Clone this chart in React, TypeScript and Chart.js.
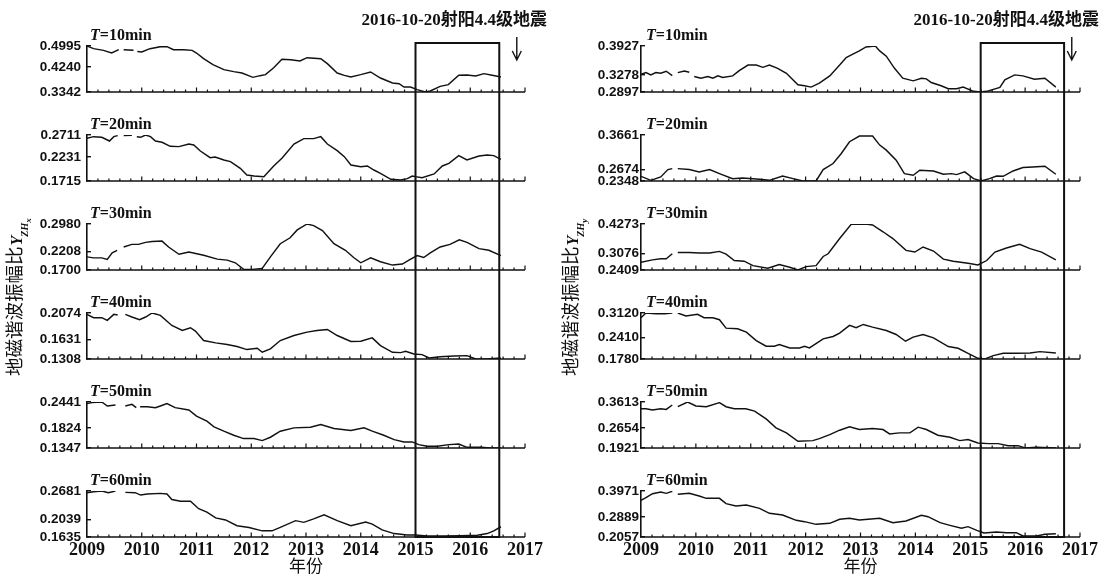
import React, { useEffect, useRef } from "react";
import { Chart, registerables } from "chart.js";

Chart.register(...registerables);

type Pt = [number, number | null];

const INK = "#111111";
const YEARS = [2009, 2010, 2011, 2012, 2013, 2014, 2015, 2016, 2017];
const MINOR_STEP = 0.2;
const PERIODS = [10, 20, 30, 40, 50, 60];
const EVENT_YEAR = 2016.85;
const EVENT_LABEL = "2016-10-20射阳4.4级地震";
const Y_TITLE = "地磁谐波振幅比";
const X_TITLE = "年份";

const LEFT_TICKS = [
  [0.3342, 0.424, 0.4995],
  [0.1715, 0.2231, 0.2711],
  [0.17, 0.2208, 0.298],
  [0.1308, 0.1631, 0.2074],
  [0.1347, 0.1824, 0.2441],
  [0.1635, 0.2039, 0.2681],
];
const RIGHT_TICKS = [
  [0.2897, 0.3278, 0.3927],
  [0.2348, 0.2674, 0.3661],
  [0.2409, 0.3076, 0.4273],
  [0.178, 0.241, 0.312],
  [0.1921, 0.2654, 0.3613],
  [0.2057, 0.2889, 0.3971],
];
const LEFT_BOX = [2015.0, 2016.53];
const RIGHT_BOX = [2015.19, 2016.71];

const L10: Pt[] = [[2009.0,0.4995],[2009.12,0.4899],[2009.3,0.4839],[2009.45,0.4743],[2009.58,0.4863],[2009.61,null],[2009.67,0.4863],[2009.85,0.4839],[2009.88,null],[2009.92,0.48],[2010.0,0.4779],[2010.15,0.4899],[2010.34,0.4971],[2010.46,0.4971],[2010.58,0.4863],[2010.77,0.4863],[2010.92,0.4839],[2011.0,0.4743],[2011.13,0.454],[2011.3,0.4324],[2011.5,0.4145],[2011.68,0.4073],[2011.83,0.4025],[2012.03,0.3869],[2012.16,0.3929],[2012.26,0.3965],[2012.41,0.4216],[2012.56,0.4516],[2012.72,0.4504],[2012.89,0.4456],[2013.02,0.4576],[2013.27,0.454],[2013.39,0.436],[2013.57,0.4025],[2013.7,0.3941],[2013.82,0.3881],[2014.0,0.3965],[2014.18,0.4061],[2014.36,0.3845],[2014.58,0.3665],[2014.7,0.3641],[2014.79,0.3522],[2014.91,0.3522],[2015.03,0.3426],[2015.18,0.3342],[2015.27,0.3378],[2015.45,0.3546],[2015.6,0.3606],[2015.79,0.3941],[2015.94,0.3953],[2016.1,0.3917],[2016.25,0.4001],[2016.4,0.3941],[2016.56,0.3881]];
const L20: Pt[] = [[2009.0,0.2639],[2009.12,0.2675],[2009.27,0.2661],[2009.41,0.2581],[2009.49,0.2675],[2009.56,0.2697],[2009.6,null],[2009.67,0.2697],[2009.82,0.2704],[2009.86,null],[2009.91,0.2675],[2009.98,0.2661],[2010.07,0.2711],[2010.16,0.2675],[2010.25,0.2581],[2010.37,0.2553],[2010.52,0.2466],[2010.68,0.2459],[2010.86,0.2516],[2010.95,0.2495],[2011.07,0.2365],[2011.25,0.222],[2011.34,0.2235],[2011.5,0.217],[2011.62,0.2134],[2011.8,0.1989],[2011.92,0.1845],[2012.05,0.1823],[2012.23,0.1809],[2012.41,0.204],[2012.56,0.2206],[2012.78,0.2516],[2012.96,0.2632],[2013.14,0.2632],[2013.27,0.2675],[2013.39,0.2516],[2013.57,0.2372],[2013.7,0.2242],[2013.82,0.2062],[2014.0,0.2025],[2014.12,0.204],[2014.24,0.1953],[2014.36,0.1881],[2014.55,0.1751],[2014.73,0.1737],[2014.85,0.1766],[2014.94,0.1823],[2015.0,0.1809],[2015.12,0.1787],[2015.34,0.1867],[2015.49,0.204],[2015.61,0.2098],[2015.79,0.2264],[2015.94,0.217],[2016.16,0.2256],[2016.31,0.2278],[2016.43,0.2264],[2016.56,0.2184]];
const L30: Pt[] = [[2009.0,0.2066],[2009.12,0.2038],[2009.27,0.2038],[2009.37,0.1992],[2009.46,0.2175],[2009.55,0.2248],[2009.58,null],[2009.67,0.234],[2009.82,0.2413],[2009.94,0.2413],[2010.07,0.2468],[2010.19,0.2495],[2010.37,0.2504],[2010.49,0.234],[2010.68,0.2139],[2010.86,0.2203],[2011.13,0.2111],[2011.38,0.2002],[2011.56,0.1974],[2011.71,0.1901],[2011.86,0.1718],[2012.02,0.1718],[2012.2,0.1746],[2012.35,0.2066],[2012.53,0.2431],[2012.71,0.2596],[2012.84,0.2815],[2013.02,0.298],[2013.14,0.2934],[2013.3,0.2797],[2013.51,0.2431],[2013.72,0.2248],[2013.87,0.2047],[2014.0,0.1901],[2014.18,0.2038],[2014.36,0.1929],[2014.58,0.1837],[2014.76,0.1865],[2014.88,0.1974],[2015.03,0.2102],[2015.15,0.2047],[2015.27,0.2175],[2015.45,0.234],[2015.63,0.2413],[2015.8,0.2541],[2015.94,0.2468],[2016.16,0.2294],[2016.34,0.2248],[2016.56,0.2102]];
const L40: Pt[] = [[2009.0,0.2051],[2009.12,0.1996],[2009.27,0.1996],[2009.37,0.1951],[2009.49,0.2051],[2009.56,0.204],[2009.6,null],[2009.7,0.2051],[2009.82,0.2007],[2009.96,0.1962],[2010.07,0.2007],[2010.19,0.2074],[2010.34,0.2035],[2010.55,0.1867],[2010.74,0.1783],[2010.89,0.1828],[2010.98,0.1772],[2011.13,0.1615],[2011.35,0.1576],[2011.56,0.1548],[2011.74,0.1515],[2011.92,0.1465],[2012.11,0.1487],[2012.2,0.142],[2012.35,0.1476],[2012.53,0.1615],[2012.78,0.1699],[2013.02,0.1755],[2013.2,0.1783],[2013.39,0.18],[2013.57,0.1699],[2013.82,0.1599],[2014.0,0.1604],[2014.21,0.166],[2014.36,0.1532],[2014.58,0.142],[2014.73,0.1414],[2014.82,0.1437],[2014.97,0.1392],[2015.12,0.1381],[2015.25,0.1325],[2015.45,0.1347],[2015.7,0.1358],[2015.94,0.1364],[2016.1,0.1308],[2016.31,0.1308],[2016.56,0.1325]];
const L50: Pt[] = [[2009.0,0.2402],[2009.09,0.2426],[2009.27,0.2441],[2009.37,0.2346],[2009.52,0.237],[2009.56,null],[2009.7,0.2346],[2009.82,0.2386],[2009.9,0.2306],[2009.93,null],[2009.97,0.233],[2010.1,0.233],[2010.25,0.2306],[2010.34,0.2346],[2010.46,0.2402],[2010.61,0.2306],[2010.86,0.225],[2011.0,0.2106],[2011.19,0.1986],[2011.32,0.185],[2011.5,0.1747],[2011.68,0.1651],[2011.86,0.1571],[2012.05,0.1571],[2012.2,0.1523],[2012.35,0.1603],[2012.53,0.1747],[2012.78,0.1826],[2013.08,0.1842],[2013.27,0.1906],[2013.51,0.181],[2013.82,0.1762],[2014.06,0.1826],[2014.21,0.1747],[2014.42,0.1651],[2014.61,0.1547],[2014.79,0.1491],[2014.94,0.1491],[2015.06,0.1427],[2015.21,0.1387],[2015.4,0.1387],[2015.61,0.1427],[2015.79,0.1443],[2015.94,0.1363],[2016.19,0.1363],[2016.37,0.1347],[2016.56,0.1347]];
const L60: Pt[] = [[2009.0,0.2643],[2009.12,0.2666],[2009.27,0.2681],[2009.39,0.2643],[2009.52,0.2681],[2009.56,null],[2009.7,0.265],[2009.88,0.2643],[2009.98,0.2588],[2010.1,0.2612],[2010.34,0.2627],[2010.46,0.2612],[2010.55,0.2488],[2010.71,0.2449],[2010.89,0.2449],[2011.04,0.2278],[2011.19,0.2201],[2011.35,0.2069],[2011.53,0.2023],[2011.74,0.1891],[2011.96,0.1852],[2012.2,0.1775],[2012.38,0.1775],[2012.53,0.1852],[2012.81,0.2007],[2012.96,0.1968],[2013.14,0.2046],[2013.33,0.2139],[2013.57,0.2007],[2013.82,0.1891],[2014.09,0.1976],[2014.21,0.1929],[2014.39,0.1798],[2014.61,0.1713],[2014.85,0.1682],[2015.0,0.1682],[2015.21,0.1658],[2015.52,0.1658],[2015.82,0.1666],[2016.13,0.1674],[2016.31,0.1713],[2016.43,0.1775],[2016.56,0.1868]];

const R10: Pt[] = [[2009.0,0.3294],[2009.09,0.3331],[2009.18,0.328],[2009.27,0.3331],[2009.36,0.3317],[2009.46,0.3361],[2009.57,0.3265],[2009.6,null],[2009.67,0.3331],[2009.79,0.3368],[2009.88,0.3339],[2009.91,null],[2009.97,0.3243],[2010.09,0.3206],[2010.22,0.3243],[2010.31,0.3206],[2010.4,0.3258],[2010.49,0.3221],[2010.67,0.3258],[2010.79,0.3375],[2010.95,0.35],[2011.1,0.35],[2011.22,0.3449],[2011.34,0.35],[2011.49,0.3427],[2011.65,0.3317],[2011.86,0.3059],[2011.98,0.3037],[2012.1,0.3007],[2012.25,0.3096],[2012.44,0.3258],[2012.62,0.35],[2012.74,0.367],[2012.86,0.3743],[2012.98,0.3817],[2013.1,0.3905],[2013.27,0.3927],[2013.35,0.3817],[2013.47,0.3699],[2013.62,0.3427],[2013.77,0.3206],[2013.96,0.3147],[2014.11,0.3206],[2014.2,0.3191],[2014.29,0.311],[2014.47,0.3037],[2014.6,0.2971],[2014.75,0.2971],[2014.87,0.3007],[2015.06,0.2912],[2015.18,0.2897],[2015.3,0.2912],[2015.54,0.3],[2015.63,0.3169],[2015.81,0.328],[2015.96,0.3258],[2016.17,0.3184],[2016.36,0.3206],[2016.56,0.3007]];
const R20: Pt[] = [[2009.0,0.2482],[2009.18,0.2367],[2009.36,0.2463],[2009.49,0.2674],[2009.57,0.2702],[2009.6,null],[2009.67,0.2702],[2009.88,0.2674],[2010.06,0.2607],[2010.25,0.2674],[2010.43,0.2559],[2010.67,0.2415],[2010.85,0.2434],[2011.16,0.2396],[2011.34,0.2367],[2011.58,0.2492],[2011.77,0.2415],[2011.95,0.2348],[2012.19,0.2348],[2012.32,0.2674],[2012.5,0.2846],[2012.65,0.3134],[2012.8,0.3469],[2012.98,0.3632],[2013.22,0.3632],[2013.35,0.3373],[2013.47,0.3229],[2013.65,0.2942],[2013.8,0.2559],[2013.96,0.2511],[2014.08,0.2655],[2014.33,0.2635],[2014.51,0.254],[2014.66,0.2559],[2014.75,0.253],[2014.9,0.2607],[2015.06,0.2415],[2015.2,0.2348],[2015.35,0.2415],[2015.48,0.2492],[2015.6,0.2482],[2015.78,0.2635],[2015.96,0.2731],[2016.14,0.275],[2016.36,0.277],[2016.56,0.254]];
const R30: Pt[] = [[2009.0,0.2724],[2009.21,0.282],[2009.36,0.2861],[2009.46,0.2861],[2009.57,0.3067],[2009.6,null],[2009.67,0.3122],[2009.88,0.3122],[2010.06,0.3095],[2010.25,0.3095],[2010.43,0.3163],[2010.55,0.3049],[2010.7,0.2793],[2010.88,0.2765],[2011.04,0.2587],[2011.31,0.2478],[2011.52,0.2628],[2011.71,0.2519],[2011.86,0.2409],[2012.01,0.2546],[2012.19,0.2587],[2012.32,0.2957],[2012.41,0.3067],[2012.62,0.3684],[2012.83,0.426],[2013.1,0.4273],[2013.22,0.4232],[2013.41,0.3958],[2013.59,0.3684],[2013.83,0.3204],[2013.99,0.3136],[2014.14,0.3341],[2014.33,0.3177],[2014.51,0.2848],[2014.69,0.2765],[2014.96,0.2683],[2015.14,0.2615],[2015.3,0.2793],[2015.45,0.3136],[2015.66,0.33],[2015.9,0.3451],[2016.09,0.3273],[2016.3,0.3136],[2016.56,0.282]];
const R40: Pt[] = [[2009.0,0.2983],[2009.09,0.312],[2009.27,0.31],[2009.43,0.31],[2009.57,0.312],[2009.6,null],[2009.67,0.312],[2009.82,0.3032],[2010.03,0.3081],[2010.15,0.2983],[2010.31,0.2983],[2010.43,0.2924],[2010.55,0.268],[2010.76,0.266],[2010.92,0.2562],[2011.1,0.2318],[2011.28,0.2152],[2011.43,0.2152],[2011.52,0.2201],[2011.71,0.2103],[2011.89,0.2103],[2011.98,0.2152],[2012.07,0.2103],[2012.32,0.2367],[2012.5,0.2435],[2012.62,0.2533],[2012.8,0.2758],[2012.92,0.269],[2013.05,0.2787],[2013.22,0.2709],[2013.47,0.2611],[2013.65,0.2494],[2013.82,0.2298],[2013.96,0.2416],[2014.14,0.2494],[2014.33,0.2396],[2014.6,0.2142],[2014.78,0.2093],[2014.96,0.1946],[2015.14,0.18],[2015.27,0.178],[2015.42,0.1878],[2015.6,0.1946],[2015.84,0.1946],[2016.09,0.1956],[2016.27,0.1995],[2016.56,0.1956]];
const R50: Pt[] = [[2009.0,0.3366],[2009.09,0.3366],[2009.21,0.3317],[2009.36,0.3366],[2009.46,0.3341],[2009.57,0.3502],[2009.6,null],[2009.67,0.344],[2009.85,0.3613],[2010.0,0.3465],[2010.19,0.344],[2010.43,0.3588],[2010.55,0.344],[2010.7,0.3366],[2010.91,0.3366],[2011.07,0.328],[2011.28,0.299],[2011.46,0.2662],[2011.65,0.2477],[2011.86,0.2168],[2012.13,0.2193],[2012.25,0.2267],[2012.44,0.2415],[2012.62,0.2576],[2012.8,0.2699],[2012.98,0.26],[2013.22,0.2637],[2013.41,0.26],[2013.53,0.244],[2013.71,0.2477],[2013.9,0.2477],[2014.05,0.2687],[2014.2,0.26],[2014.41,0.239],[2014.63,0.2316],[2014.81,0.2193],[2014.96,0.223],[2015.14,0.2106],[2015.33,0.2082],[2015.51,0.2082],[2015.69,0.2007],[2015.87,0.2007],[2016.0,0.1921],[2016.21,0.1946],[2016.56,0.1921]];
const R60: Pt[] = [[2009.0,0.3583],[2009.09,0.3694],[2009.21,0.386],[2009.36,0.393],[2009.46,0.3874],[2009.57,0.3957],[2009.6,null],[2009.67,0.3832],[2009.88,0.3874],[2010.06,0.3763],[2010.19,0.3666],[2010.43,0.3666],[2010.55,0.3444],[2010.73,0.3347],[2010.92,0.3389],[2011.16,0.325],[2011.34,0.3042],[2011.58,0.2972],[2011.83,0.2751],[2011.98,0.2695],[2012.19,0.2584],[2012.44,0.2626],[2012.62,0.2792],[2012.8,0.2834],[2012.98,0.2764],[2013.35,0.2834],[2013.59,0.2653],[2013.83,0.2723],[2014.11,0.2959],[2014.23,0.2903],[2014.45,0.2653],[2014.63,0.2542],[2014.84,0.2418],[2014.96,0.2487],[2015.12,0.2334],[2015.25,0.2223],[2015.48,0.2265],[2015.66,0.2237],[2015.84,0.2237],[2015.96,0.2099],[2016.21,0.2099],[2016.36,0.2168],[2016.56,0.2196]];

const SUB_H = 46;
const GAP_H = 43;
const CANVAS_H = 576;

interface PanelSpec {
  series: Pt[][];
  ticks: number[][];
  box: number[];
  sub: string;
  axisWidth: number;
  padRight: number;
  tickPad: number;
  labelDx: number;
  titleCx: number;
  width: number;
}

function decorPlugin(spec: PanelSpec) {
  return {
    id: "panelDecor",
    afterDraw(chart: any) {
      const ctx: CanvasRenderingContext2D = chart.ctx;
      const xs = chart.scales.x;
      const xL = xs.getPixelForValue(YEARS[0]);
      const xR = xs.getPixelForValue(YEARS[YEARS.length - 1]);
      ctx.save();
      ctx.strokeStyle = INK;
      ctx.fillStyle = INK;
      const nMinor = Math.round((YEARS[YEARS.length - 1] - YEARS[0]) / MINOR_STEP);
      for (let i = 0; i < 6; i++) {
        const ys = chart.scales["y" + i];
        const yb = ys.getPixelForValue(spec.ticks[i][0]);
        ctx.lineWidth = 1.6;
        ctx.beginPath();
        ctx.moveTo(xL - 0.75, yb);
        ctx.lineTo(xR, yb);
        ctx.stroke();
        ctx.lineWidth = 1.2;
        ctx.beginPath();
        for (let k = 1; k <= nMinor; k++) {
          const px = xs.getPixelForValue(YEARS[0] + k * MINOR_STEP);
          const len = k % 5 === 0 ? 4.5 : 2.5;
          ctx.moveTo(px, yb);
          ctx.lineTo(px, yb - len);
        }
        ctx.stroke();
        const lx = chart.chartArea.left + spec.labelDx;
        const ly = ys.top - 6;
        ctx.textAlign = "left";
        ctx.textBaseline = "alphabetic";
        ctx.font = 'italic bold 16px "Liberation Serif", serif';
        ctx.fillText("T", lx, ly);
        const tw = ctx.measureText("T").width;
        ctx.font = 'bold 16px "Liberation Serif", serif';
        ctx.fillText("=" + PERIODS[i] + "min", lx + tw, ly);
      }
      const top = chart.scales.y0.top - 3;
      const bottom = chart.scales.y5.getPixelForValue(spec.ticks[5][0]);
      const bx0 = xs.getPixelForValue(spec.box[0]);
      const bx1 = xs.getPixelForValue(spec.box[1]);
      ctx.lineWidth = 2;
      ctx.strokeRect(bx0, top, bx1 - bx0, bottom - top);
      ctx.font = 'bold 17px "Liberation Serif", "Noto Sans CJK SC", serif';
      ctx.textAlign = "right";
      ctx.textBaseline = "alphabetic";
      ctx.fillText(EVENT_LABEL, spec.width - 4, 25);
      const ax = xs.getPixelForValue(EVENT_YEAR);
      ctx.lineWidth = 1.4;
      ctx.beginPath();
      ctx.moveTo(ax, 37);
      ctx.lineTo(ax, 60);
      ctx.moveTo(ax - 4.5, 51);
      ctx.lineTo(ax, 60);
      ctx.lineTo(ax + 4.5, 51);
      ctx.stroke();
      ctx.translate(spec.titleCx + 7, 376);
      ctx.rotate(-Math.PI / 2);
      ctx.textAlign = "left";
      ctx.textBaseline = "alphabetic";
      ctx.font = '18.5px "Noto Sans CJK SC", sans-serif';
      ctx.fillText(Y_TITLE, 0, 0);
      let w = ctx.measureText(Y_TITLE).width + 1;
      ctx.font = 'italic bold 16px "Liberation Serif", serif';
      ctx.fillText("Y", w, 1);
      w += ctx.measureText("Y").width - 1;
      ctx.font = 'italic bold 10px "Liberation Serif", serif';
      ctx.fillText("ZH", w, 7);
      w += ctx.measureText("ZH").width;
      ctx.font = 'italic bold 9px "Liberation Serif", serif';
      ctx.fillText(spec.sub, w, 10);
      ctx.restore();
    },
  };
}

function buildConfig(spec: PanelSpec): any {
  const scales: any = {
    x: {
      type: "linear",
      axis: "x",
      position: "bottom",
      min: YEARS[0],
      max: YEARS[YEARS.length - 1],
      afterBuildTicks: (s: any) => {
        s.ticks = YEARS.map((v) => ({ value: v }));
      },
      afterFit: (s: any) => {
        s.height = 39;
      },
      grid: { display: false, drawTicks: false },
      border: { display: false },
      ticks: {
        autoSkip: false,
        maxRotation: 0,
        padding: 3,
        color: INK,
        font: { family: '"Liberation Serif", serif', size: 18, weight: "bold" },
        callback: (v: any) => String(v),
      },
      title: {
        display: true,
        text: X_TITLE,
        color: INK,
        padding: { top: 0, bottom: 0 },
        font: { family: '"Noto Sans CJK SC", sans-serif', size: 17 },
      },
    },
  };
  for (let i = 5; i >= 0; i--) {
    const t = spec.ticks[i];
    scales["y" + i] = {
      type: "linear",
      axis: "y",
      position: "left",
      stack: "panel",
      stackWeight: SUB_H,
      min: t[0],
      max: t[2],
      afterBuildTicks: (s: any) => {
        s.ticks = t.map((v) => ({ value: v }));
      },
      afterFit: (s: any) => {
        s.width = spec.axisWidth;
      },
      grid: { drawOnChartArea: false, drawTicks: true, tickLength: -4, color: INK, lineWidth: 1.4 },
      border: { display: true, color: INK, width: 1.6 },
      ticks: {
        autoSkip: false,
        padding: spec.tickPad,
        color: INK,
        font: { family: '"Liberation Sans", Arial, sans-serif', size: 13.5, weight: "bold" },
        callback: (v: any) => Number(v).toFixed(4),
      },
    };
    if (i > 0) {
      scales["g" + (i - 1)] = {
        type: "linear",
        axis: "y",
        position: "left",
        stack: "panel",
        stackWeight: GAP_H,
        display: false,
        afterFit: (s: any) => {
          s.width = spec.axisWidth;
        },
      };
    }
  }
  return {
    type: "line",
    data: {
      datasets: spec.series.map((s, i) => ({
        data: s.map(([x, y]) => ({ x, y })),
        xAxisID: "x",
        yAxisID: "y" + i,
        borderColor: INK,
        borderWidth: 1.45,
        pointRadius: 0,
        fill: false,
        tension: 0,
        spanGaps: false,
      })),
    },
    options: {
      responsive: false,
      maintainAspectRatio: false,
      animation: false,
      devicePixelRatio: 1,
      layout: { padding: { top: 46, right: spec.padRight, bottom: 0, left: 0 } },
      plugins: { legend: { display: false }, tooltip: { enabled: false }, title: { display: false } },
      scales,
    },
    plugins: [decorPlugin(spec)],
  };
}

const LEFT_SPEC: PanelSpec = {
  series: [L10, L20, L30, L40, L50, L60],
  ticks: LEFT_TICKS,
  box: LEFT_BOX,
  sub: "x",
  axisWidth: 87,
  padRight: 26,
  tickPad: 10,
  labelDx: 3,
  titleCx: 14,
  width: 551,
};
const RIGHT_SPEC: PanelSpec = {
  series: [R10, R20, R30, R40, R50, R60],
  ticks: RIGHT_TICKS,
  box: RIGHT_BOX,
  sub: "y",
  axisWidth: 90,
  padRight: 23,
  tickPad: 6,
  labelDx: 5,
  titleCx: 19,
  width: 552,
};

function Panel({ spec, left }: { spec: PanelSpec; left: number }) {
  const ref = useRef<HTMLCanvasElement>(null);
  useEffect(() => {
    const chart = new Chart(ref.current as HTMLCanvasElement, buildConfig(spec));
    return () => chart.destroy();
  }, [spec]);
  return (
    <canvas
      ref={ref}
      width={spec.width}
      height={CANVAS_H}
      style={{ position: "absolute", left, top: 0, width: spec.width, height: CANVAS_H }}
    />
  );
}

export default function App() {
  return (
    <div style={{ position: "absolute", left: 0, top: 0, width: 1103, height: CANVAS_H, background: "#fff", overflow: "hidden" }}>
      <Panel spec={LEFT_SPEC} left={0} />
      <Panel spec={RIGHT_SPEC} left={551} />
    </div>
  );
}
